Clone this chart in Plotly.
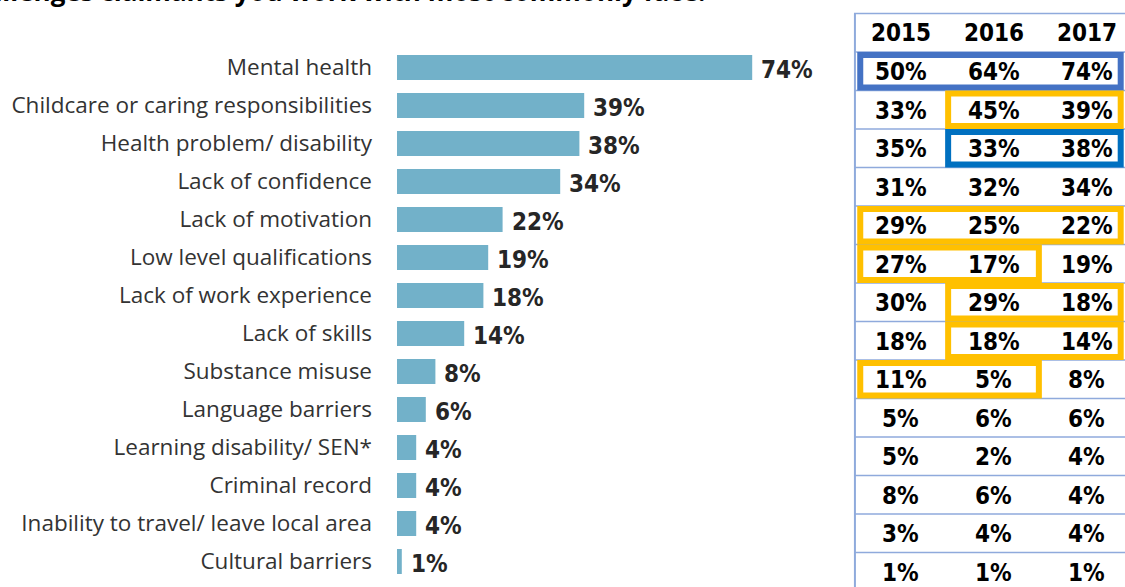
import plotly.graph_objects as go

W, H = 1125, 587

# Barriers faced by claimants (share of respondents, %)
categories = [
    "Mental health",
    "Childcare or caring responsibilities",
    "Health problem/ disability",
    "Lack of confidence",
    "Lack of motivation",
    "Low level qualifications",
    "Lack of work experience",
    "Lack of skills",
    "Substance misuse",
    "Language barriers",
    "Learning disability/ SEN*",
    "Criminal record",
    "Inability to travel/ leave local area",
    "Cultural barriers",
]
share_2017 = [74, 39, 38, 34, 22, 19, 18, 14, 8, 6, 4, 4, 4, 1]

# Year-on-year comparison table
years = ["2015", "2016", "2017"]
share_2015 = [50, 33, 35, 31, 29, 27, 30, 18, 11, 5, 5, 8, 3, 1]
share_2016 = [64, 45, 33, 32, 25, 17, 29, 18, 5, 6, 2, 6, 4, 1]
table_cols = [share_2015, share_2016, share_2017]

# Highlighted trends: (row, first column, last column, colour)
highlights = [
    (0, 0, 2, "#4472C4"),
    (1, 1, 2, "#FFC000"),
    (2, 1, 2, "#0070C0"),
    (4, 0, 2, "#FFC000"),
    (5, 0, 1, "#FFC000"),
    (6, 1, 2, "#FFC000"),
    (7, 1, 2, "#FFC000"),
    (8, 0, 1, "#FFC000"),
]

BAR_COLOR = "#72B1C9"
LABEL_FONT = "Open Sans, Noto Sans, sans-serif"
NUM_FONT = "DejaVu Sans Condensed, DejaVu Sans, sans-serif"
GRID_COLOR = "#8FAADC"

fig = go.Figure()

fig.add_trace(go.Bar(
    x=share_2017,
    y=categories,
    orientation="h",
    marker=dict(color=BAR_COLOR, line=dict(width=0)),
    hoverinfo="skip",
    showlegend=False,
    xaxis="x", yaxis="y",
))

annotations = []
# value labels next to each bar
for cat, v in zip(categories, share_2017):
    annotations.append(dict(
        x=v, y=cat, xref="x", yref="y",
        text=f"<b>{v}%</b>", showarrow=False,
        xanchor="left", yanchor="middle", xshift=7, yshift=-2,
        font=dict(family=NUM_FONT, size=24, color="#262626"),
    ))

# table header
for c, yr in enumerate(years):
    annotations.append(dict(
        x=c + 0.5, y=-0.5, xref="x2", yref="y2",
        text=f"<b>{yr}</b>", showarrow=False,
        xanchor="center", yanchor="middle",
        font=dict(family=NUM_FONT, size=24, color="#000000"),
    ))
# table cells
for c, col in enumerate(table_cols):
    for r, v in enumerate(col):
        annotations.append(dict(
            x=c + 0.5, y=r + 0.5, xref="x2", yref="y2",
            text=f"<b>{v}%</b>", showarrow=False,
            xanchor="center", yanchor="middle", yshift=-1,
            font=dict(family=NUM_FONT, size=24, color="#000000"),
        ))

# heading (runs off the top edge)
annotations.append(dict(
    x=707 / W, y=1, xref="paper", yref="paper",
    text="<b>Challenges claimants you work with most commonly face:</b>",
    showarrow=False, xanchor="right", yanchor="bottom", yshift=-11,
    font=dict(family=LABEL_FONT, size=26, color="#000000"),
))

n_rows = len(categories)
row_px = 38.5
x_end = 2.914
y_top = -1.091
y_bot = 13.896

shapes = []
# table rules
for b in range(-1, n_rows):
    shapes.append(dict(
        type="line", xref="x2", yref="y2",
        x0=0, x1=x_end, y0=b, y1=b,
        line=dict(color=GRID_COLOR, width=1.5),
    ))
shapes.append(dict(
    type="line", xref="x2", yref="y2",
    x0=0.01, x1=0.01, y0=-1, y1=y_bot,
    line=dict(color=GRID_COLOR, width=2),
))
# highlight boxes
lw = 6
inset_x = (lw / 2) / 93
inset_y = (lw / 2) / row_px
for r, c0, c1, color in highlights:
    left = max(c0 - 0.02, 0.035)
    right = min(c1 + 1.02, 2.9)
    shapes.append(dict(
        type="rect", xref="x2", yref="y2",
        x0=left + inset_x, x1=right - inset_x,
        y0=r + inset_y, y1=r + 1 - inset_y,
        line=dict(color=color, width=lw),
        fillcolor="rgba(0,0,0,0)",
    ))

fig.update_layout(
    width=W, height=H,
    margin=dict(l=0, r=0, t=0, b=0),
    paper_bgcolor="white", plot_bgcolor="white",
    bargap=0.342,
    annotations=annotations,
    shapes=shapes,
    xaxis=dict(
        domain=[397 / W, 840 / W], range=[0, 443 / 4.8],
        visible=False, fixedrange=True,
    ),
    yaxis=dict(
        domain=[1 - 580.5 / H, 1 - 48.5 / H],
        range=[n_rows - 0.5, -0.5], type="category",
        showgrid=False, zeroline=False, showline=False, ticks="",
        ticklabelstandoff=24,
        tickfont=dict(family=LABEL_FONT, size=22.5, color="#333333"),
        fixedrange=True,
    ),
    xaxis2=dict(
        domain=[852 / W, 1], range=[-2 / 93, x_end],
        anchor="y2", visible=False, fixedrange=True,
    ),
    yaxis2=dict(
        domain=[0, 1 - 10 / H], range=[y_bot, y_top],
        anchor="x2", visible=False, fixedrange=True,
    ),
)

fig.write_html("out.html")
